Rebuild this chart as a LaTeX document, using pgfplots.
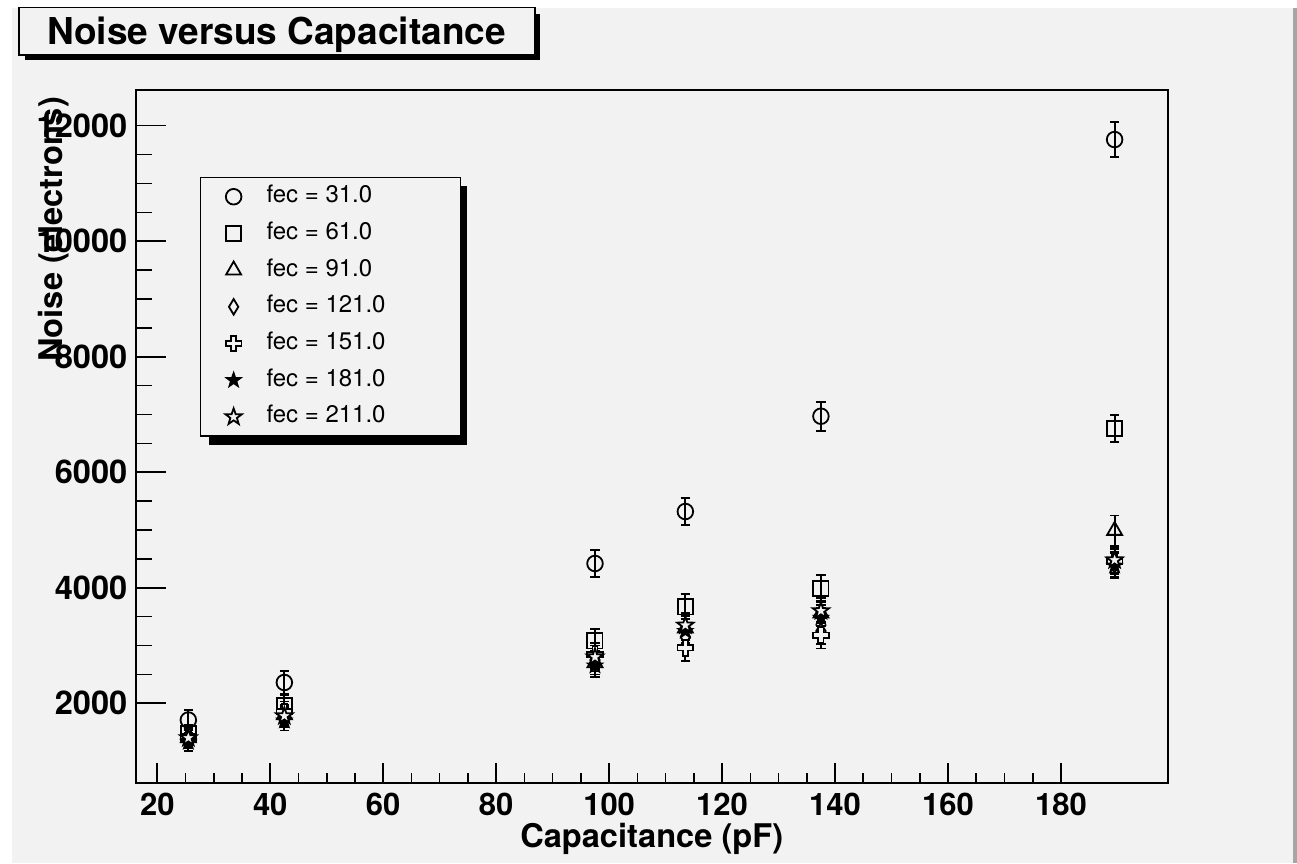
\documentclass[border=0pt]{standalone}
\usepackage{fontspec}
\setmainfont{TeX Gyre Heros}
\usepackage{pgfplots}
\usepackage{pgfplotstable}
\pgfplotsset{compat=1.18}
\definecolor{bgc}{HTML}{F2F2F2}

\pgfdeclareplotmark{rdiamond}{%
 \pgfpathmoveto{\pgfqpoint{0pt}{\pgfplotmarksize}}%
 \pgfpathlineto{\pgfqpoint{0.6\pgfplotmarksize}{0pt}}%
 \pgfpathlineto{\pgfqpoint{0pt}{-\pgfplotmarksize}}%
 \pgfpathlineto{\pgfqpoint{-0.6\pgfplotmarksize}{0pt}}%
 \pgfpathclose\pgfusepathqfillstroke}
\pgfdeclareplotmark{ocross}{%
 \pgfpathmoveto{\pgfqpoint{-0.33\pgfplotmarksize}{\pgfplotmarksize}}%
 \pgfpathlineto{\pgfqpoint{0.33\pgfplotmarksize}{\pgfplotmarksize}}%
 \pgfpathlineto{\pgfqpoint{0.33\pgfplotmarksize}{0.33\pgfplotmarksize}}%
 \pgfpathlineto{\pgfqpoint{\pgfplotmarksize}{0.33\pgfplotmarksize}}%
 \pgfpathlineto{\pgfqpoint{\pgfplotmarksize}{-0.33\pgfplotmarksize}}%
 \pgfpathlineto{\pgfqpoint{0.33\pgfplotmarksize}{-0.33\pgfplotmarksize}}%
 \pgfpathlineto{\pgfqpoint{0.33\pgfplotmarksize}{-\pgfplotmarksize}}%
 \pgfpathlineto{\pgfqpoint{-0.33\pgfplotmarksize}{-\pgfplotmarksize}}%
 \pgfpathlineto{\pgfqpoint{-0.33\pgfplotmarksize}{-0.33\pgfplotmarksize}}%
 \pgfpathlineto{\pgfqpoint{-\pgfplotmarksize}{-0.33\pgfplotmarksize}}%
 \pgfpathlineto{\pgfqpoint{-\pgfplotmarksize}{0.33\pgfplotmarksize}}%
 \pgfpathlineto{\pgfqpoint{-0.33\pgfplotmarksize}{0.33\pgfplotmarksize}}%
 \pgfpathclose\pgfusepathqfillstroke}
\pgfdeclareplotmark{rstar}{%
 \pgfpathmoveto{\pgfpointpolar{90}{\pgfplotmarksize}}%
 \pgfpathlineto{\pgfpointpolar{126}{0.4\pgfplotmarksize}}%
 \pgfpathlineto{\pgfpointpolar{162}{\pgfplotmarksize}}%
 \pgfpathlineto{\pgfpointpolar{198}{0.4\pgfplotmarksize}}%
 \pgfpathlineto{\pgfpointpolar{234}{\pgfplotmarksize}}%
 \pgfpathlineto{\pgfpointpolar{270}{0.4\pgfplotmarksize}}%
 \pgfpathlineto{\pgfpointpolar{306}{\pgfplotmarksize}}%
 \pgfpathlineto{\pgfpointpolar{342}{0.4\pgfplotmarksize}}%
 \pgfpathlineto{\pgfpointpolar{18}{\pgfplotmarksize}}%
 \pgfpathlineto{\pgfpointpolar{54}{0.4\pgfplotmarksize}}%
 \pgfpathclose\pgfusepathqfillstroke}

\pgfplotsset{rootp/.style={only marks, black, line width=0.9pt,
  legend image code/.code={\path (0pt,0pt) (18pt,0pt);\draw[mark repeat=2,mark phase=2,##1] plot coordinates {(0pt,0pt)(9pt,0pt)(18pt,0pt)};},
  error bars/y dir=both, error bars/y explicit,
  error bars/error bar style={line width=0.9pt, black},
  error bars/error mark=|,
  error bars/error mark options={mark size=2.4pt, line width=0.9pt, black}}}

\pgfplotstableread{
x y e
25.5 1710 170
42.5 2360 200
97.5 4420 230
113.5 5320 240
137.5 6970 250
189.5 11760 300
}\fecA
\pgfplotstableread{
x y e
25.5 1470 160
42.5 1960 190
97.5 3080 210
113.5 3670 220
137.5 3990 230
189.5 6760 230
}\fecB
\pgfplotstableread{
x y e
25.5 1400 150
42.5 1800 180
97.5 2700 200
113.5 3300 210
137.5 3560 220
189.5 4990 260
}\fecC
\pgfplotstableread{
x y e
25.5 1380 150
42.5 1760 180
97.5 2750 200
113.5 3150 210
137.5 3250 220
189.5 4400 220
}\fecD
\pgfplotstableread{
x y e
25.5 1420 150
42.5 1850 180
97.5 2850 200
113.5 2960 230
137.5 3180 230
189.5 4450 220
}\fecE
\pgfplotstableread{
x y e
25.5 1330 150
42.5 1700 170
97.5 2650 200
113.5 3250 210
137.5 3480 220
189.5 4380 220
}\fecF
\pgfplotstableread{
x y e
25.5 1400 150
42.5 1780 180
97.5 2800 200
113.5 3350 210
137.5 3600 220
189.5 4480 220
}\fecG

\begin{document}
\begin{tikzpicture}
\useasboundingbox (0,0) rectangle (648.5pt,431.5pt);
\fill[white] (0,0) rectangle (648.5pt,431.5pt);
\fill[bgc] (6pt,0pt) rectangle (648.5pt,427.5pt);
\fill[black!35] (646.5pt,0pt) rectangle (648.5pt,427.5pt);
% title box
\fill[black] (12.5pt,401.5pt) rectangle (270pt,424.5pt);
\filldraw[fill=bgc, draw=black, line width=0.75pt] (9.5pt,404pt) rectangle (267.5pt,427.85pt);
\node[anchor=base west, inner sep=0pt, font=\fontsize{18.5}{22}\selectfont\bfseries] at (23.35pt,409pt) {Noise versus Capacitance};
% legend shadow
\fill[black] (104.5pt,209pt) rectangle (233.5pt,338.5pt);

\begin{axis}[
 at={(67.85pt,40pt)}, anchor=south west, scale only axis,
 width=516pt, height=346.5pt,
 xmin=16.18, xmax=198.9, ymin=620, ymax=12618,
 axis line style={line width=1pt},
 xtick={20,40,...,180}, minor x tick num=3, xtick pos=left, ytick=\empty,
 tick align=inside, major tick length=10pt, minor tick length=5pt,
 tick style={black, line width=0.8pt},
 scaled x ticks=false, scaled y ticks=false,
 xticklabel style={font=\fontsize{15.5}{18}\selectfont\bfseries, inner ysep=0pt, yshift=-5pt},
 /pgf/number format/assume math mode=true, /pgf/number format/1000 sep={},
 xlabel={Capacitance (pF)},
 xlabel style={font=\fontsize{16.3}{19}\selectfont\bfseries, at={(axis description cs:0.5,-0.0925)}, anchor=base},
 legend style={at={(axis description cs:0.0623,0.8745)}, anchor=north west, draw=black, line width=0.75pt, fill=bgc,
   inner xsep=7pt, inner ysep=3.5pt, row sep=6.35pt, column sep=7pt,
   font=\fontsize{12}{14}\selectfont, nodes={inner sep=0pt, text height=9pt, text depth=3pt}},
 legend cell align=left,
]
\addplot[rootp, mark=o, mark options={solid, line width=0.9pt, fill=bgc, mark size=3.9pt}] table[x=x, y=y, y error=e] {\fecA};
\addlegendentry{\makebox[90pt][l]{fec = 31.0}}
\addplot[rootp, mark=square, mark options={solid, line width=0.9pt, fill=bgc, mark size=3.8pt}] table[x=x, y=y, y error=e] {\fecB};
\addlegendentry{\makebox[90pt][l]{fec = 61.0}}
\addplot[rootp, mark=triangle, mark options={solid, line width=0.9pt, fill=bgc, mark size=4.3pt}] table[x=x, y=y, y error=e] {\fecC};
\addlegendentry{\makebox[90pt][l]{fec = 91.0}}
\addplot[rootp, mark=rdiamond, mark options={solid, line width=0.9pt, fill=bgc, mark size=3.9pt}] table[x=x, y=y, y error=e] {\fecD};
\addlegendentry{\makebox[90pt][l]{fec = 121.0}}
\addplot[rootp, mark=ocross, mark options={solid, line width=0.9pt, fill=bgc, mark size=3.9pt}] table[x=x, y=y, y error=e] {\fecE};
\addlegendentry{\makebox[90pt][l]{fec = 151.0}}
\addplot[rootp, mark=rstar, mark options={solid, line width=0.9pt, fill=black, mark size=3.5pt}] table[x=x, y=y, y error=e] {\fecF};
\addlegendentry{\makebox[90pt][l]{fec = 181.0}}
\addplot[rootp, mark=rstar, mark options={solid, line width=0.9pt, fill=bgc, mark size=4.3pt}] table[x=x, y=y, y error=e] {\fecG};
\addlegendentry{\makebox[90pt][l]{fec = 211.0}}
\end{axis}

\begin{axis}[
 at={(67.85pt,40pt)}, anchor=south west, scale only axis,
 width=516pt, height=346.5pt,
 xmin=16.18, xmax=198.9, ymin=620, ymax=12618,
 axis line style={line width=1pt},
 xtick=\empty, ytick={2000,4000,...,12000}, minor y tick num=3, ytick pos=left,
 tick align=inside, major tick length=15pt, minor tick length=8pt,
 tick style={black, line width=0.8pt},
 scaled y ticks=false,
 yticklabel style={font=\fontsize{16.3}{19}\selectfont\bfseries, inner xsep=0pt, xshift=-4pt},
 /pgf/number format/assume math mode=true, /pgf/number format/1000 sep={},
 ylabel={Noise (electrons)},
 ylabel style={font=\fontsize{16.3}{19}\selectfont\bfseries, at={(axis description cs:-0.0707,1)}, anchor=base east},
]
\end{axis}
\end{tikzpicture}
\end{document}
